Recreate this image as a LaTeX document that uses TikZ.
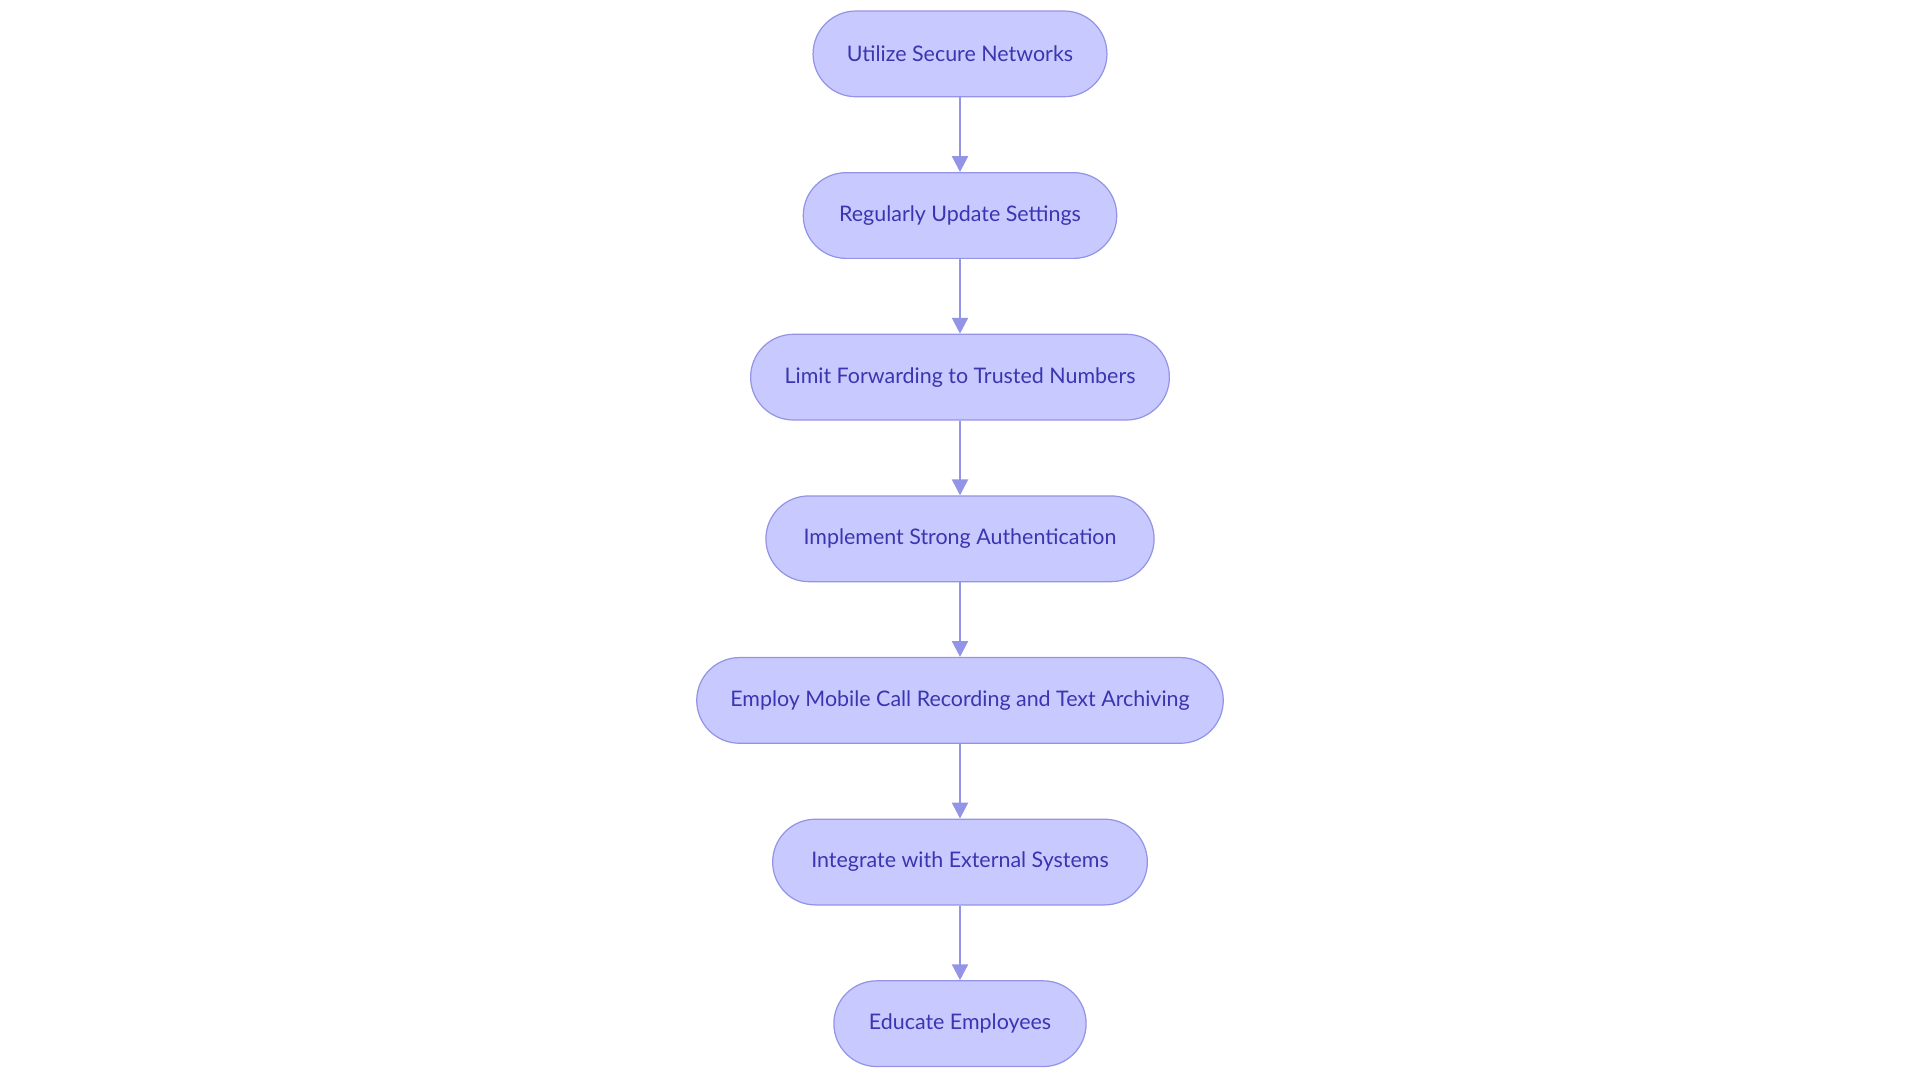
\documentclass[tikz,border=0pt]{standalone}
\usepackage{fontspec}
\setmainfont{Lato}
\usetikzlibrary{arrows.meta}
\definecolor{nfill}{HTML}{C8CAFF}
\definecolor{nline}{HTML}{9494E6}
\definecolor{ntext}{HTML}{3A35B0}
\begin{document}
\begin{tikzpicture}[x=1pt,y=-1pt,
  box/.style={draw=nline,line width=1pt,fill=nfill,rounded corners=35pt,minimum height=70pt,text=ntext,font=\fontsize{17.5}{20}\selectfont,inner sep=0pt},
  arr/.style={draw=nline,line width=2pt,-{Triangle[length=13pt,width=13pt]}}]
\path[use as bounding box] (0,0) rectangle (1568,884);
\node[box,minimum width=240pt] (a) at (784,44) {Utilize Secure Networks};
\node[box,minimum width=256pt] (b) at (784,176) {Regularly Update Settings};
\node[box,minimum width=342pt] (c) at (784,308) {Limit Forwarding to Trusted Numbers};
\node[box,minimum width=317pt] (d) at (784,440) {Implement Strong Authentication};
\node[box,minimum width=430pt] (e) at (784,572) {Employ Mobile Call Recording and Text Archiving};
\node[box,minimum width=306pt] (f) at (784,704) {Integrate with External Systems};
\node[box,minimum width=206pt] (g) at (784,836) {Educate Employees};
\foreach \u/\v in {a/b,b/c,c/d,d/e,e/f,f/g}
  \draw[arr] (\u) -- (\v);
\end{tikzpicture}
\end{document}
